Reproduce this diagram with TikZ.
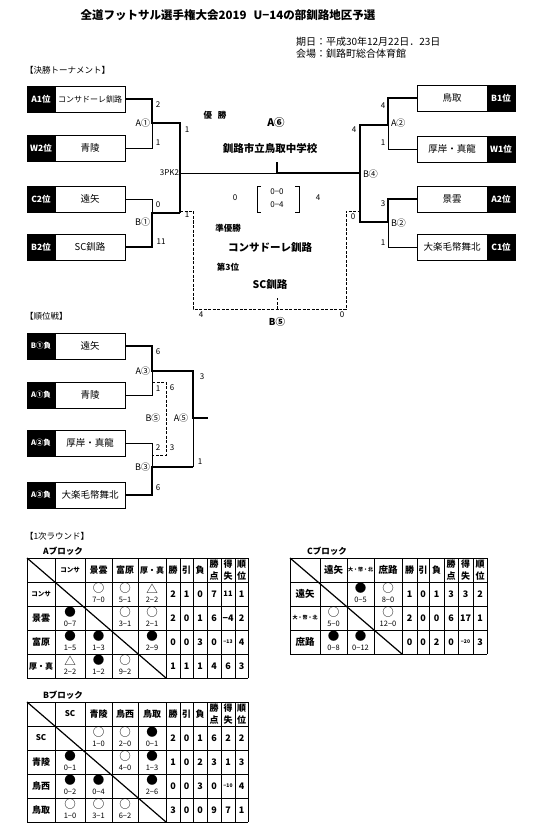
\documentclass[tikz,border=0pt]{standalone}
\usepackage{fontspec}
\setmainfont{Noto Sans CJK JP}
\newcommand\gm[5]{\node[sym] (#1s) at (#2,#3+6.5) {#4}; \node[scr] (#1n) at (#2,#3+17.5) {#5};}
\newcommand\stA[8]{\node[tb] (#1a) at (173,#2+12) {#3}; \node[tb] (#1b) at (186.5,#2+12) {#4}; \node[tb] (#1c) at (200,#2+12) {#5}; \node[tb] (#1d) at (214,#2+12) {#6}; \node[tb] (#1e) at (228,#2+12) {#7}; \node[tb] (#1f) at (241.5,#2+12) {#8};}
\newcommand\stC[8]{\node[tb] (#1a) at (409.5,#2+12) {#3}; \node[tb] (#1b) at (423,#2+12) {#4}; \node[tb] (#1c) at (436.5,#2+12) {#5}; \node[tb] (#1d) at (451,#2+12) {#6}; \node[tb] (#1e) at (465.5,#2+12) {#7}; \node[tb] (#1f) at (480,#2+12) {#8};}
\newcommand\hdst[8]{\node[tb] (#1a) at (#3,#2+12) {勝}; \node[tb] (#1b) at (#4,#2+12) {引}; \node[tb] (#1c) at (#5,#2+12) {負};
 \node[tb] (#1d) at (#6,#2+6) {勝}; \node[tb] (#1D) at (#6,#2+18) {点};
 \node[tb] (#1e) at (#7,#2+6) {得}; \node[tb] (#1E) at (#7,#2+18) {失};
 \node[tb] (#1f) at (#8,#2+6) {順}; \node[tb] (#1F) at (#8,#2+18) {位};}
\begin{document}
\begin{tikzpicture}[x=1pt,y=-1pt,
  every node/.style={inner sep=0pt,outer sep=0pt},
  win/.style={line width=2.2pt},
  lose/.style={line width=0.7pt},
  dsh/.style={line width=0.7pt,dash pattern=on 3pt off 1.5pt},
  namebox/.style={draw,line width=0.8pt,fill=white,minimum width=70pt,minimum height=26pt,font=\fontsize{9.5}{10}\selectfont},
  rankbox/.style={draw,line width=0.8pt,fill=black,text=white,minimum width=28pt,minimum height=26pt,font=\bfseries\fontsize{8.5}{9}\selectfont},
  qbox/.style={rankbox,font=\bfseries\fontsize{7.5}{8}\selectfont},
  sc/.style={font=\fontsize{8}{9}\selectfont},
  rl/.style={font=\fontsize{9}{10}\selectfont},
  big/.style={font=\bfseries\fontsize{10.5}{11}\selectfont},
  mid/.style={font=\bfseries\fontsize{8.5}{9}\selectfont},
  head/.style={font=\fontsize{8.5}{9}\selectfont,anchor=west},
  tb/.style={font=\bfseries\fontsize{9}{9}\selectfont},
  tiny/.style={font=\bfseries\fontsize{5}{5}\selectfont},
  sym/.style={font=\fontsize{11.5}{11.5}\selectfont},
  scr/.style={font=\fontsize{7.5}{8}\selectfont},
  grid/.style={line width=0.8pt},
]
\useasboundingbox (0,0) rectangle (540,834);
% titles
\node[font=\bfseries\fontsize{11.5}{12}\selectfont] (title) at (228,15) {全道フットサル選手権大会2019\hspace{7pt}U−14の部釧路地区予選};
\node[font=\fontsize{10}{11}\selectfont,anchor=west] (date) at (296,42) {期日：平成30年12月22日．23日};
\node[font=\fontsize{10}{11}\selectfont,anchor=west] (place) at (296,54) {会場：釧路町総合体育館};
\node[head] (h1) at (25,70) {【決勝トーナメント】};
\node[head] (h2) at (25,316) {【順位戦】};
\node[head] (h3) at (25,536) {【1次ラウンド】};

% ---------- final tournament ----------
\node[rankbox] (lr1) at (41,99) {A1位}; \node[namebox,font=\fontsize{8}{8}\selectfont] (ln1) at (90,99) {コンサドーレ釧路};
\node[rankbox] (lr2) at (41,148) {W2位}; \node[namebox] (ln2) at (90,148) {青陵};
\node[rankbox] (lr3) at (41,199) {C2位}; \node[namebox] (ln3) at (90,199) {遠矢};
\node[rankbox] (lr4) at (41,247) {B2位}; \node[namebox] (ln4) at (90,247) {SC釧路};
\node[namebox] (rn1) at (452,98) {鳥取}; \node[rankbox] (rr1) at (501,98) {B1位};
\node[namebox] (rn2) at (452,149) {厚岸・真龍}; \node[rankbox] (rr2) at (501,149) {W1位};
\node[namebox] (rn3) at (452,199) {景雲}; \node[rankbox] (rr3) at (501,199) {A2位};
\node[namebox] (rn4) at (452,247) {大楽毛幣舞北}; \node[rankbox] (rr4) at (501,247) {C1位};

\coordinate (jA1) at (152,123); \coordinate (jB1) at (152,213);
\coordinate (sL) at (180,123); \coordinate (sLb) at (180,213);
\coordinate (fL) at (180,173); \coordinate (fM) at (277,173); \coordinate (fR) at (360,173);
\coordinate (fT) at (277,162);
\coordinate (jA2) at (388,125); \coordinate (jB2) at (388,222);
\coordinate (sR) at (360,125); \coordinate (sRb) at (360,222);

\draw[lose] (ln2.east) -| (jA1);
\draw[lose] (ln3.east) -| (jB1);
\draw[lose] (rn2.west) -| (jA2);
\draw[lose] (rn4.west) -| (jB2);
\draw[lose] (fL) -- (fM);
\draw[win] (ln1.east) -| (jA1) -- (sL) -- (fL) -- (sLb);
\draw[win] (ln4.east) -| (jB1) -- (sLb);
\draw[win] (rn1.west) -| (jA2) -- (sR) -- (fR) -- (sRb) -- (jB2);
\draw[win] (rn3.west) -| (jB2);
\draw[win] (fM) -- (fR);
\draw[win] (fM) -- (fT);

\coordinate (dL0) at (180,211); \coordinate (dL) at (193,211); \coordinate (dLb) at (193,309);
\coordinate (dR0) at (360,211); \coordinate (dR) at (346,211); \coordinate (dRb) at (346,309);
\coordinate (dM) at (277,309); \coordinate (dMt) at (277,298);
\draw[dsh] (dL0) -- (dL) -- (dLb) -- (dRb) -- (dR) -- (dR0);
\draw[dsh] (dM) -- (dMt);

\node[sc] (s1) at (158,105) {2};
\node[sc] (s2) at (158,143) {1};
\node[rl,anchor=east] (m1) at (150,123) {A①};
\node[sc] (s3) at (187,130) {1};
\node[sc,anchor=east] (s4) at (179,173) {3PK2};
\node[sc] (s5) at (158,205) {0};
\node[rl,anchor=east] (m2) at (150,222) {B①};
\node[sc] (s6) at (161,242) {11};
\node[sc] (s7) at (187,215) {1};
\node[sc] (s8) at (383,106) {4};
\node[rl,anchor=west] (m3) at (391,123) {A②};
\node[sc] (s9) at (383,143) {1};
\node[sc] (s10) at (354,130) {4};
\node[rl,anchor=west] (m4) at (363,174) {B④};
\node[sc] (s11) at (383,204) {3};
\node[rl,anchor=west] (m5) at (391,223) {B②};
\node[sc] (s12) at (383,243) {1};
\node[sc] (s13) at (353,217) {0};

\node[mid] (champ) at (215,115) {優\hspace{6pt}勝};
\node[big] (m6) at (276,123) {A⑥};
\node[big] (cname) at (270,148) {釧路市立鳥取中学校};
\node[sc] (f1) at (235,198) {0};
\node[sc] (f2) at (277,192) {0−0};
\node[sc] (f3) at (277,205) {0−4};
\node[sc] (f4) at (318,198) {4};
\draw[line width=0.6pt] (261,186) -- (257,186) -- (257,212) -- (261,212);
\draw[line width=0.6pt] (295,186) -- (299,186) -- (299,212) -- (295,212);
\node[mid] (ru) at (228,228) {準優勝};
\node[big] (runame) at (270,248) {コンサドーレ釧路};
\node[mid] (third) at (228,267) {第3位};
\node[big] (thname) at (270,285) {SC釧路};
\node[sc] (s14) at (201,315) {4};
\node[sc] (s15) at (342,315) {0};
\node[mid,font=\bfseries\fontsize{9.5}{10}\selectfont] (m7) at (277,322) {B⑤};

% ---------- placing matches ----------
\node[qbox] (qr1) at (41,346) {B①負}; \node[namebox] (qn1) at (90,346) {遠矢};
\node[qbox] (qr2) at (41,395) {A①負}; \node[namebox] (qn2) at (90,395) {青陵};
\node[qbox] (qr3) at (41,443) {A②負}; \node[namebox] (qn3) at (90,443) {厚岸・真龍};
\node[qbox] (qr4) at (41,495) {A③負}; \node[namebox] (qn4) at (90,495) {大楽毛幣舞北};
\coordinate (kA3) at (152,371); \coordinate (kB3) at (152,467);
\coordinate (kA5t) at (193,371); \coordinate (kA5b) at (193,467);
\coordinate (kA5) at (193,418); \coordinate (kE) at (208,418);
\draw[lose] (qn2.east) -| (kA3);
\draw[lose] (qn3.east) -| (kB3);
\draw[lose] (kA5b) -- (kA5);
\draw[win] (qn1.east) -| (kA3) -- (kA5t) -- (kA5) -- (kE);
\draw[win] (qn4.east) -| (kB3) -- (kA5b);
\coordinate (kd1) at (152,382); \coordinate (kd2) at (166,382);
\coordinate (kd3) at (166,455); \coordinate (kd4) at (152,455);
\draw[dsh] (kd1) -- (kd2) -- (kd3) -- (kd4);
\node[sc] (p1) at (158,352) {6};
\node[rl,anchor=east] (n1) at (150,371) {A③};
\node[sc] (p2) at (158,389) {1};
\node[sc] (p3) at (172,388) {6};
\node[rl] (n2) at (153,418) {B⑤};
\node[rl] (n3) at (181,418) {A⑤};
\node[sc] (p4) at (158,448) {2};
\node[sc] (p5) at (172,448) {3};
\node[rl,anchor=east] (n4) at (150,467) {B③};
\node[sc] (p6) at (158,488) {6};
\node[sc] (p7) at (202,377) {3};
\node[sc] (p8) at (200,462) {1};

% ---------- A block ----------
\node[font=\bfseries\fontsize{8.5}{9}\selectfont] (Aname) at (63,551) {Aブロック};
\foreach \x in {27,55,85,112,138,166,180,193,207,221,235,248} \draw[grid] (\x,558) -- (\x,678);
\foreach \y in {558,582,606,630,654,678} \draw[grid] (27,\y) -- (248,\y);
\draw[line width=1.2pt] (27,558) -- (166,678);
\node[tb,font=\bfseries\fontsize{6.5}{7}\selectfont] (Ah1) at (70,570) {コンサ};
\node[tb] (Ah2) at (98.5,570) {景雲};
\node[tb] (Ah3) at (125,570) {富原};
\node[tb,font=\bfseries\fontsize{8}{8}\selectfont] (Ah4) at (152,570) {厚・真};
\hdst{Ah}{558}{173}{186.5}{200}{214}{228}{241.5}
\node[tb,font=\bfseries\fontsize{6.5}{7}\selectfont] (Ar1) at (41,594) {コンサ};
\node[tb] (Ar2) at (41,618) {景雲};
\node[tb] (Ar3) at (41,642) {富原};
\node[tb,font=\bfseries\fontsize{8}{8}\selectfont] (Ar4) at (41,666) {厚・真};
\gm{A13}{98.5}{582}{○}{7−0} \gm{A14}{125}{582}{○}{5−1} \gm{A15}{152}{582}{△}{2−2}
\gm{A22}{70}{606}{●}{0−7} \gm{A24}{125}{606}{○}{3−1} \gm{A25}{152}{606}{○}{2−1}
\gm{A32}{70}{630}{●}{1−5} \gm{A33}{98.5}{630}{●}{1−3} \gm{A35}{152}{630}{●}{2−9}
\gm{A42}{70}{654}{△}{2−2} \gm{A43}{98.5}{654}{●}{1−2} \gm{A44}{125}{654}{○}{9−2}
\stA{Aa}{582}{2}{1}{0}{7}{\fontsize{7.5}{8}\selectfont 11}{1}
\stA{Ab}{606}{2}{0}{1}{6}{−4}{2}
\stA{Ac}{630}{0}{0}{3}{0}{\fontsize{5}{5}\selectfont −13}{4}
\stA{Ad}{654}{1}{1}{1}{4}{6}{3}

% ---------- C block ----------
\node[font=\bfseries\fontsize{8.5}{9}\selectfont] (Cname) at (327,551) {Cブロック};
\foreach \x in {290,320,347,374,402,417,429,444,458,473,487} \draw[grid] (\x,558) -- (\x,654);
\foreach \y in {558,582,606,630,654} \draw[grid] (290,\y) -- (487,\y);
\draw[line width=1.2pt] (290,558) -- (402,654);
\node[tb,font=\bfseries\fontsize{9.5}{10}\selectfont] (Ch1) at (333.5,570) {遠矢};
\node[tiny] (Ch2) at (360.5,570) {大・幣・北};
\node[tb,font=\bfseries\fontsize{9.5}{10}\selectfont] (Ch3) at (388,570) {庶路};
\hdst{Ch}{558}{409.5}{423}{436.5}{451}{465.5}{480}
\node[tb,font=\bfseries\fontsize{9.5}{10}\selectfont] (Cr1) at (305,594) {遠矢};
\node[tiny] (Cr2) at (305,618) {大・幣・北};
\node[tb,font=\bfseries\fontsize{9.5}{10}\selectfont] (Cr3) at (305,642) {庶路};
\gm{C13}{360.5}{582}{●}{0−5} \gm{C14}{388}{582}{○}{8−0}
\gm{C22}{333.5}{606}{○}{5−0} \gm{C24}{388}{606}{○}{12−0}
\gm{C32}{333.5}{630}{●}{0−8} \gm{C33}{360.5}{630}{●}{0−12}
\stC{Ca}{582}{1}{0}{1}{3}{3}{2}
\stC{Cb}{606}{2}{0}{0}{6}{17}{1}
\stC{Cc}{630}{0}{0}{2}{0}{\fontsize{5}{5}\selectfont −20}{3}

% ---------- B block ----------
\node[font=\bfseries\fontsize{8.5}{9}\selectfont] (Bname) at (63,695) {Bブロック};
\foreach \x in {27,55,85,112,138,166,180,193,207,221,235,248} \draw[grid] (\x,702) -- (\x,822);
\foreach \y in {702,726,750,774,798,822} \draw[grid] (27,\y) -- (248,\y);
\draw[line width=1.2pt] (27,702) -- (166,822);
\node[tb,font=\bfseries\fontsize{8}{8}\selectfont] (Bh1) at (70,714) {SC};
\node[tb] (Bh2) at (98.5,714) {青陵};
\node[tb] (Bh3) at (125,714) {鳥西};
\node[tb] (Bh4) at (152,714) {鳥取};
\hdst{Bh}{702}{173}{186.5}{200}{214}{228}{241.5}
\node[tb,font=\bfseries\fontsize{8}{8}\selectfont] (Br1) at (41,738) {SC};
\node[tb] (Br2) at (41,762) {青陵};
\node[tb] (Br3) at (41,786) {鳥西};
\node[tb] (Br4) at (41,810) {鳥取};
\gm{B13}{98.5}{726}{○}{1−0} \gm{B14}{125}{726}{○}{2−0} \gm{B15}{152}{726}{●}{0−1}
\gm{B22}{70}{750}{●}{0−1} \gm{B24}{125}{750}{○}{4−0} \gm{B25}{152}{750}{●}{1−3}
\gm{B32}{70}{774}{●}{0−2} \gm{B33}{98.5}{774}{●}{0−4} \gm{B35}{152}{774}{●}{2−6}
\gm{B42}{70}{798}{○}{1−0} \gm{B43}{98.5}{798}{○}{3−1} \gm{B44}{125}{798}{○}{6−2}
\stA{Ba}{726}{2}{0}{1}{6}{2}{2}
\stA{Bb}{750}{1}{0}{2}{3}{1}{3}
\stA{Bc}{774}{0}{0}{3}{0}{\fontsize{5}{5}\selectfont −10}{4}
\stA{Bd}{798}{3}{0}{0}{9}{7}{1}
\end{tikzpicture}
\end{document}
